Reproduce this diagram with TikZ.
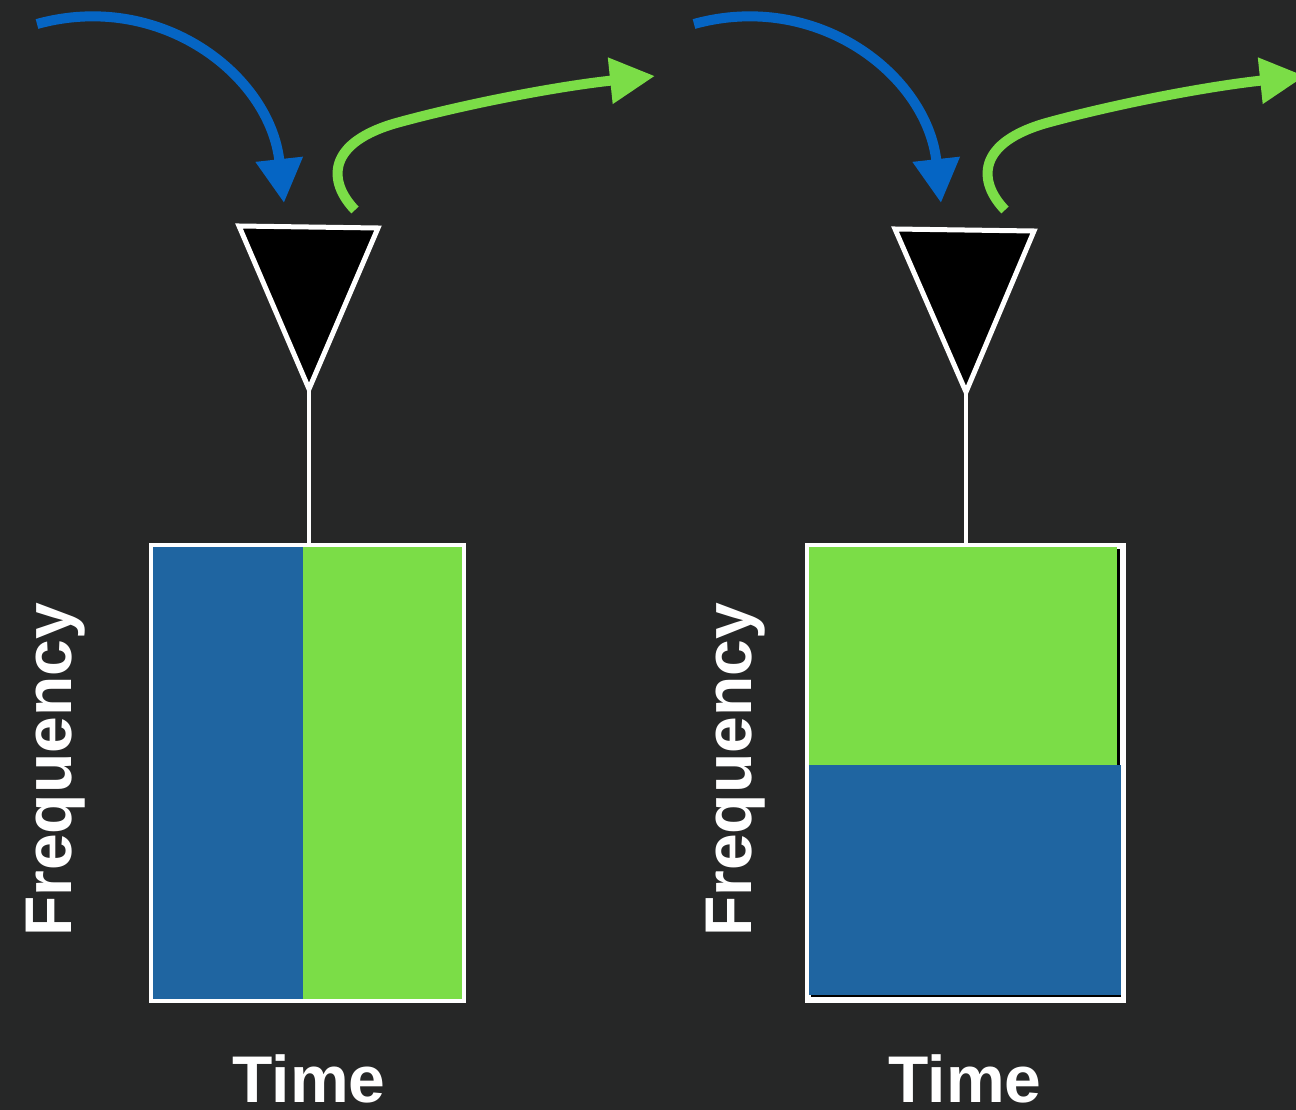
\documentclass[tikz,border=0pt]{standalone}
\usepackage{fontspec}
\setmainfont{Liberation Sans}
\usetikzlibrary{arrows.meta}
\definecolor{bg}{HTML}{262727}
\definecolor{sigblue}{HTML}{0565C4}
\definecolor{siggreen}{HTML}{7BDD47}
\definecolor{boxblue}{HTML}{1F65A1}
\begin{document}
\begin{tikzpicture}[x=1pt,y=-1pt,
  bluearrow/.style={draw=sigblue, line width=10pt, -{Triangle[length=44pt,width=45pt]}},
  greenarrow/.style={draw=siggreen, line width=10pt, -{Triangle[length=45pt,width=44pt]}},
  antenna/.style={draw=white, line width=5pt, fill=black, line join=miter},
  stem/.style={draw=white, line width=4pt},
  frame/.style={draw=white, line width=4pt},
  label/.style={text=white, font=\bfseries\fontsize{66}{78}\selectfont, inner sep=0pt}]
\clip (0,0) rectangle (1296,1110);
\useasboundingbox (0,0) rectangle (1296,1110);
\fill[bg] (0,0) rectangle (1296,1110);

% ---------- left panel ----------
\coordinate (bstartL) at (37,24);
\coordinate (btipL) at (284,203);
\coordinate (gstartL) at (355,210);
\coordinate (gtipL) at (655,76);
\draw[bluearrow] (bstartL) .. controls (160,-10) and (270,75) .. (btipL);
\draw[greenarrow] (gstartL) .. controls (328,182) and (325,142) .. (400,122)
   .. controls (470,103) and (560,86) .. (gtipL);
\coordinate (antL) at (309,389);
\coordinate (boxtopL) at (309,545);
\draw[stem] (antL) -- (boxtopL);
\draw[antenna] (239,226) -- (378,228) -- (antL) -- cycle;
\fill[boxblue] (151,545) rectangle (303,1001);
\fill[siggreen] (303,545) rectangle (464,1001);
\draw[frame] (151,545) rectangle (464,1001);
\node[label, rotate=90, anchor=base] (freqL) at (71,770) {Frequency};
\node[label, anchor=base] (timeL) at (309,1102) {Time};

% ---------- right panel ----------
\coordinate (bstartR) at (694,24);
\coordinate (btipR) at (941,203);
\coordinate (gstartR) at (1005,210);
\coordinate (gtipR) at (1305,76);
\draw[bluearrow] (bstartR) .. controls (817,-10) and (927,75) .. (btipR);
\draw[greenarrow] (gstartR) .. controls (978,182) and (975,142) .. (1050,122)
   .. controls (1120,103) and (1210,86) .. (gtipR);
\coordinate (antR) at (966,392);
\coordinate (boxtopR) at (966,545);
\draw[stem] (antR) -- (boxtopR);
\draw[antenna] (895,229) -- (1034,231) -- (antR) -- cycle;
\draw[frame, fill=white] (807,545) rectangle (1124,1001);
\fill[siggreen] (809,547) rectangle (1117,765);
\fill[black] (1117,549) rectangle (1120,765);
\fill[boxblue] (809,765) rectangle (1121,995);
\fill[black] (811,994.5) rectangle (1121,997);
\node[label, rotate=90, anchor=base] (freqR) at (751,770) {Frequency};
\node[label, anchor=base] (timeR) at (965,1102) {Time};
\end{tikzpicture}
\end{document}
